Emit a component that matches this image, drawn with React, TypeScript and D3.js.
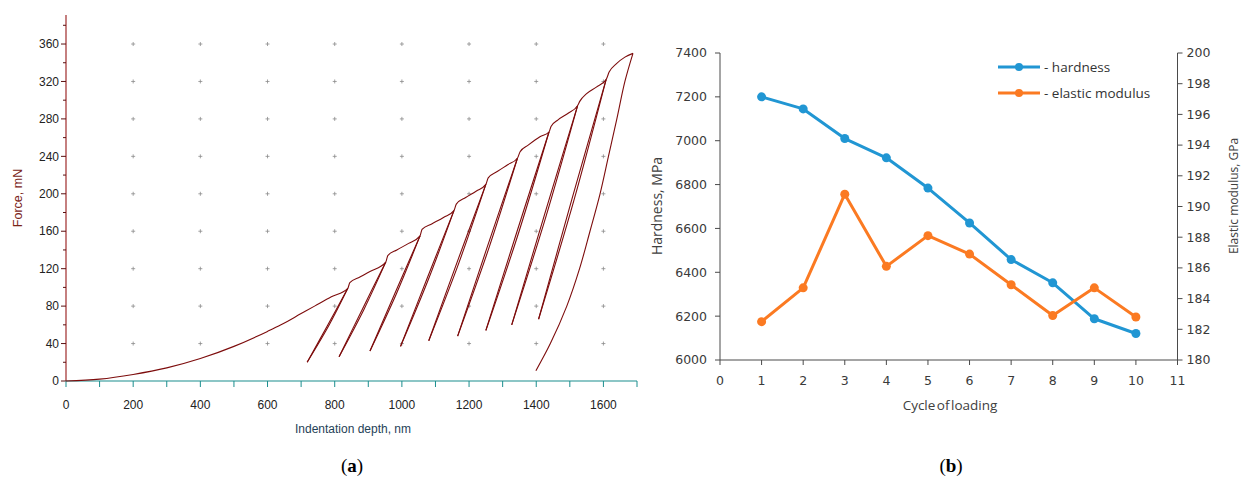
import React from "react"
import * as d3 from "d3"

// ---------- panel (a): load / unload cycles ----------
const forceTicks = [0, 40, 80, 120, 160, 200, 240, 280, 320, 360]
const forceMinor = [20, 60, 100, 140, 180, 220, 260, 300, 340, 380]
const depthTicks = [0, 200, 400, 600, 800, 1000, 1200, 1400, 1600]
const depthMinor = [100, 300, 500, 700, 900, 1100, 1300, 1500, 1700]
const gridDepths = [200, 400, 600, 800, 1000, 1200, 1400, 1600]
const gridForces = [40, 80, 120, 160, 200, 240, 280, 320, 360]

// loading envelope [depth nm, force mN]
const loadingCurve: [number, number][] = [
	[0, 0], [100, 2], [200, 7], [300, 14], [400, 24], [500, 37], [600, 53],
	[640, 60], [700, 72], [740, 80], [790, 90], [839, 99],
	[845, 105], [875, 111], [905, 117], [952, 127],
	[958, 134], [985, 140], [1020, 147], [1054, 155],
	[1060, 162], [1090, 168], [1125, 175], [1155, 182],
	[1162, 189], [1190, 196], [1222, 203], [1250, 210],
	[1257, 217], [1285, 224], [1315, 231], [1344, 238],
	[1352, 245], [1376, 252], [1411, 261], [1438, 266],
	[1444, 272], [1465, 279], [1495, 286], [1523, 294],
	[1530, 299], [1550, 307], [1579, 314], [1608, 322],
	[1617, 330], [1639, 339], [1664, 346], [1688, 350],
]

// partial unload cycles 1-9
const peaks: [number, number][] = [
	[839, 99], [952, 127], [1054, 155], [1155, 182], [1250, 210],
	[1344, 238], [1438, 266], [1523, 294], [1608, 322],
]
const unloadEnds: [number, number][] = [
	[718, 20], [813, 26], [905, 32], [996, 37], [1080, 43],
	[1166, 48], [1250, 54], [1327, 60], [1407, 66],
]
const unloadMidDepth = [783, 887, 984, 1080, 1170, 1260, 1349, 1430, 1513]
const reloadMidDepth = [779, 882, 979, 1075, 1164, 1254, 1343, 1424, 1506]

const finalUnload: [number, number][] = [
	[1688, 350], [1664, 320], [1640, 280], [1615, 240], [1590, 200],
	[1560, 160], [1529, 120], [1491, 80], [1442, 40], [1399, 11],
]

// ---------- panel (b): hardness / modulus ----------
const cycles = [1, 2, 3, 4, 5, 6, 7, 8, 9, 10]
const hardness = [7200, 7145, 7010, 6922, 6784, 6625, 6458, 6352, 6188, 6121]
const modulus = [182.5, 184.7, 190.8, 186.1, 188.1, 186.9, 184.9, 182.9, 184.7, 182.8]
const cycleTicks = [0, 1, 2, 3, 4, 5, 6, 7, 8, 9, 10, 11]
const hardnessTicks = [6000, 6200, 6400, 6600, 6800, 7000, 7200, 7400]
const modulusTicks = [180, 182, 184, 186, 188, 190, 192, 194, 196, 198, 200]

const W = 1242
const H = 477

const curveCol = "#7d0c0c"
const yAxisCol = "#9e2a2a"
const xAxisCol = "#1b8e8e"
const blue = "#2196d3"
const orange = "#fb7a22"
const grayAxis = "#4a4a4a"

const App: React.FC = () => {
	const xA = d3.scaleLinear().domain([0, 1700]).range([66, 637])
	const yA = d3.scaleLinear().domain([0, 391]).range([381, 15])

	const xB = d3.scaleLinear().domain([0, 11]).range([720, 1177.5])
	const yH = d3.scaleLinear().domain([6000, 7400]).range([360, 53])
	const yE = d3.scaleLinear().domain([180, 200]).range([360, 53])

	const loadLine = d3
		.line<[number, number]>()
		.x((d) => xA(d[0]))
		.y((d) => yA(d[1]))
		.curve(d3.curveMonotoneX)
	const cycleLine = d3
		.line<[number, number]>()
		.x((d) => xA(d[0]))
		.y((d) => yA(d[1]))
		.curve(d3.curveCatmullRom.alpha(0.5))

	const hardLine = d3
		.line<number>()
		.x((d, i) => xB(cycles[i]))
		.y((d) => yH(d))
	const modLine = d3
		.line<number>()
		.x((d, i) => xB(cycles[i]))
		.y((d) => yE(d))

	const fontA = "'Liberation Sans', Arial, sans-serif"
	const fontB = "'DejaVu Sans', Verdana, sans-serif"
	const fontT = "'Open Sans', 'Liberation Sans', sans-serif"

	return (
		<svg
			width={W}
			height={H}
			style={{ position: "absolute", left: 0, top: 0, background: "#fff" }}>
			{/* ===================== (a) ===================== */}
			<g>
				{/* plus grid */}
				{gridDepths.map((gx) =>
					gridForces.map((gy) => (
						<g key={`p${gx}-${gy}`} stroke="#8a8a8a" strokeWidth={0.8}>
							<line x1={xA(gx) - 2} x2={xA(gx) + 2} y1={yA(gy)} y2={yA(gy)} />
							<line x1={xA(gx)} x2={xA(gx)} y1={yA(gy) - 2} y2={yA(gy) + 2} />
						</g>
					))
				)}

				{/* y axis */}
				<line x1={xA(0)} x2={xA(0)} y1={yA(0)} y2={15} stroke={yAxisCol} strokeWidth={1.2} />
				{forceTicks.map((t) => (
					<g key={`ft${t}`}>
						<line x1={xA(0) - 5} x2={xA(0)} y1={yA(t)} y2={yA(t)} stroke="#5a1010" strokeWidth={1} />
						<text
							x={xA(0) - 7}
							y={yA(t)}
							dy="0.35em"
							textAnchor="end"
							fontFamily={fontA}
							fontSize={12}
							fill="#222">
							{t}
						</text>
					</g>
				))}
				{forceMinor.map((t) => (
					<line key={`fm${t}`} x1={xA(0) - 3} x2={xA(0)} y1={yA(t)} y2={yA(t)} stroke="#5a1010" strokeWidth={1} />
				))}

				{/* x axis */}
				<line x1={xA(0)} x2={xA(1700)} y1={yA(0)} y2={yA(0)} stroke={xAxisCol} strokeWidth={1.2} />
				{depthTicks.concat(depthMinor).map((t) => (
					<line key={`dt${t}`} x1={xA(t)} x2={xA(t)} y1={yA(0)} y2={yA(0) + 6} stroke={xAxisCol} strokeWidth={1} />
				))}
				{depthTicks.map((t) => (
					<text
						key={`dl${t}`}
						x={xA(t)}
						y={yA(0) + 24}
						dy="0.35em"
						textAnchor="middle"
						fontFamily={fontA}
						fontSize={12}
						fill="#222">
						{t}
					</text>
				))}

				{/* curves */}
				<g fill="none" stroke={curveCol} strokeWidth={1.1}>
					<path d={loadLine(loadingCurve) || ""} />
					{peaks.map((p, i) => {
						const e = unloadEnds[i]
						const mf = (p[1] + e[1]) / 2
						const un: [number, number][] = [p, [unloadMidDepth[i], mf], e]
						const re: [number, number][] = [e, [reloadMidDepth[i], mf], p]
						return (
							<g key={`cy${i}`}>
								<path d={cycleLine(un) || ""} />
								<path d={cycleLine(re) || ""} />
							</g>
						)
					})}
					<path d={cycleLine(finalUnload) || ""} />
				</g>

				{/* titles */}
				<text
					transform={`translate(22,198) rotate(-90)`}
					textAnchor="middle"
					fontFamily={fontA}
					fontSize={12.5}
					fill="#7a2418">
					Force, mN
				</text>
				<text
					x={353}
					y={433}
					textAnchor="middle"
					fontFamily={fontA}
					fontSize={12}
					fill="#1f4257">
					Indentation depth, nm
				</text>
				<text
					x={352}
					y={472}
					textAnchor="middle"
					fontFamily="'Liberation Serif', 'Times New Roman', serif"
					fontSize={19}
					fill="#000">
					(<tspan fontWeight="bold">a</tspan>)
				</text>
			</g>

			{/* ===================== (b) ===================== */}
			<g>
				{/* left axis */}
				<line x1={xB(0)} x2={xB(0)} y1={yH(6000)} y2={yH(7400)} stroke={grayAxis} strokeWidth={1} />
				{hardnessTicks.map((t) => (
					<g key={`ht${t}`}>
						<line x1={xB(0) - 5} x2={xB(0)} y1={yH(t)} y2={yH(t)} stroke={grayAxis} />
						<text
							x={xB(0) - 13}
							y={yH(t)}
							dy="0.35em"
							textAnchor="end"
							fontFamily={fontB}
							fontSize={12.5}
							fill="#3a3a3a">
							{t}
						</text>
					</g>
				))}

				{/* right axis */}
				<line x1={xB(11)} x2={xB(11)} y1={yE(180)} y2={yE(200)} stroke={grayAxis} strokeWidth={1} />
				{modulusTicks.map((t) => (
					<g key={`mt${t}`}>
						<line x1={xB(11)} x2={xB(11) + 5} y1={yE(t)} y2={yE(t)} stroke={grayAxis} />
						<text
							x={xB(11) + 9}
							y={yE(t)}
							dy="0.35em"
							textAnchor="start"
							fontFamily={fontB}
							fontSize={12.5}
							fill="#3a3a3a">
							{t}
						</text>
					</g>
				))}

				{/* x axis */}
				<line x1={xB(0)} x2={xB(11)} y1={yH(6000)} y2={yH(6000)} stroke={grayAxis} strokeWidth={1} />
				{cycleTicks.map((t) => (
					<g key={`ct${t}`}>
						<line x1={xB(t)} x2={xB(t)} y1={yH(6000)} y2={yH(6000) + 5} stroke={grayAxis} />
						<text
							x={xB(t)}
							y={yH(6000) + 21}
							dy="0.35em"
							textAnchor="middle"
							fontFamily={fontB}
							fontSize={12.5}
							fill="#3a3a3a">
							{t}
						</text>
					</g>
				))}

				{/* series */}
				<path d={hardLine(hardness) || ""} fill="none" stroke={blue} strokeWidth={3} strokeLinejoin="round" />
				{hardness.map((v, i) => (
					<circle key={`hc${i}`} cx={xB(cycles[i])} cy={yH(v)} r={4.5} fill={blue} />
				))}
				<path d={modLine(modulus) || ""} fill="none" stroke={orange} strokeWidth={3} strokeLinejoin="round" />
				{modulus.map((v, i) => (
					<circle key={`mc${i}`} cx={xB(cycles[i])} cy={yE(v)} r={4.5} fill={orange} />
				))}

				{/* legend */}
				<line x1={998} x2={1040} y1={67} y2={67} stroke={blue} strokeWidth={3} />
				<circle cx={1019} cy={67} r={4} fill={blue} />
				<text x={1044} y={67} dy="0.35em" fontFamily={fontT} fontSize={13.5} fill="#333">
					- hardness
				</text>
				<line x1={998} x2={1040} y1={93} y2={93} stroke={orange} strokeWidth={3} />
				<circle cx={1019} cy={93} r={4} fill={orange} />
				<text x={1044} y={93} dy="0.35em" fontFamily={fontT} fontSize={13.5} fill="#333">
					- elastic modulus
				</text>

				{/* titles */}
				<text
					transform={`translate(662,206) rotate(-90)`}
					textAnchor="middle"
					fontFamily={fontT}
					fontSize={14}
					fill="#404040">
					Hardness, MPa
				</text>
				<text
					transform={`translate(1238,196) rotate(-90)`}
					textAnchor="middle"
					fontFamily={fontT}
					fontSize={12}
					fill="#404040">
					Elastic modulus, GPa
				</text>
				<text
					x={950}
					y={410}
					textAnchor="middle"
					fontFamily={fontT}
					fontSize={13.5}
					wordSpacing={-2}
					fill="#404040">
					Cycle of loading
				</text>
				<text
					x={951}
					y={472}
					textAnchor="middle"
					fontFamily="'Liberation Serif', 'Times New Roman', serif"
					fontSize={19}
					fill="#000">
					(<tspan fontWeight="bold">b</tspan>)
				</text>
			</g>
		</svg>
	)
}

export default App
